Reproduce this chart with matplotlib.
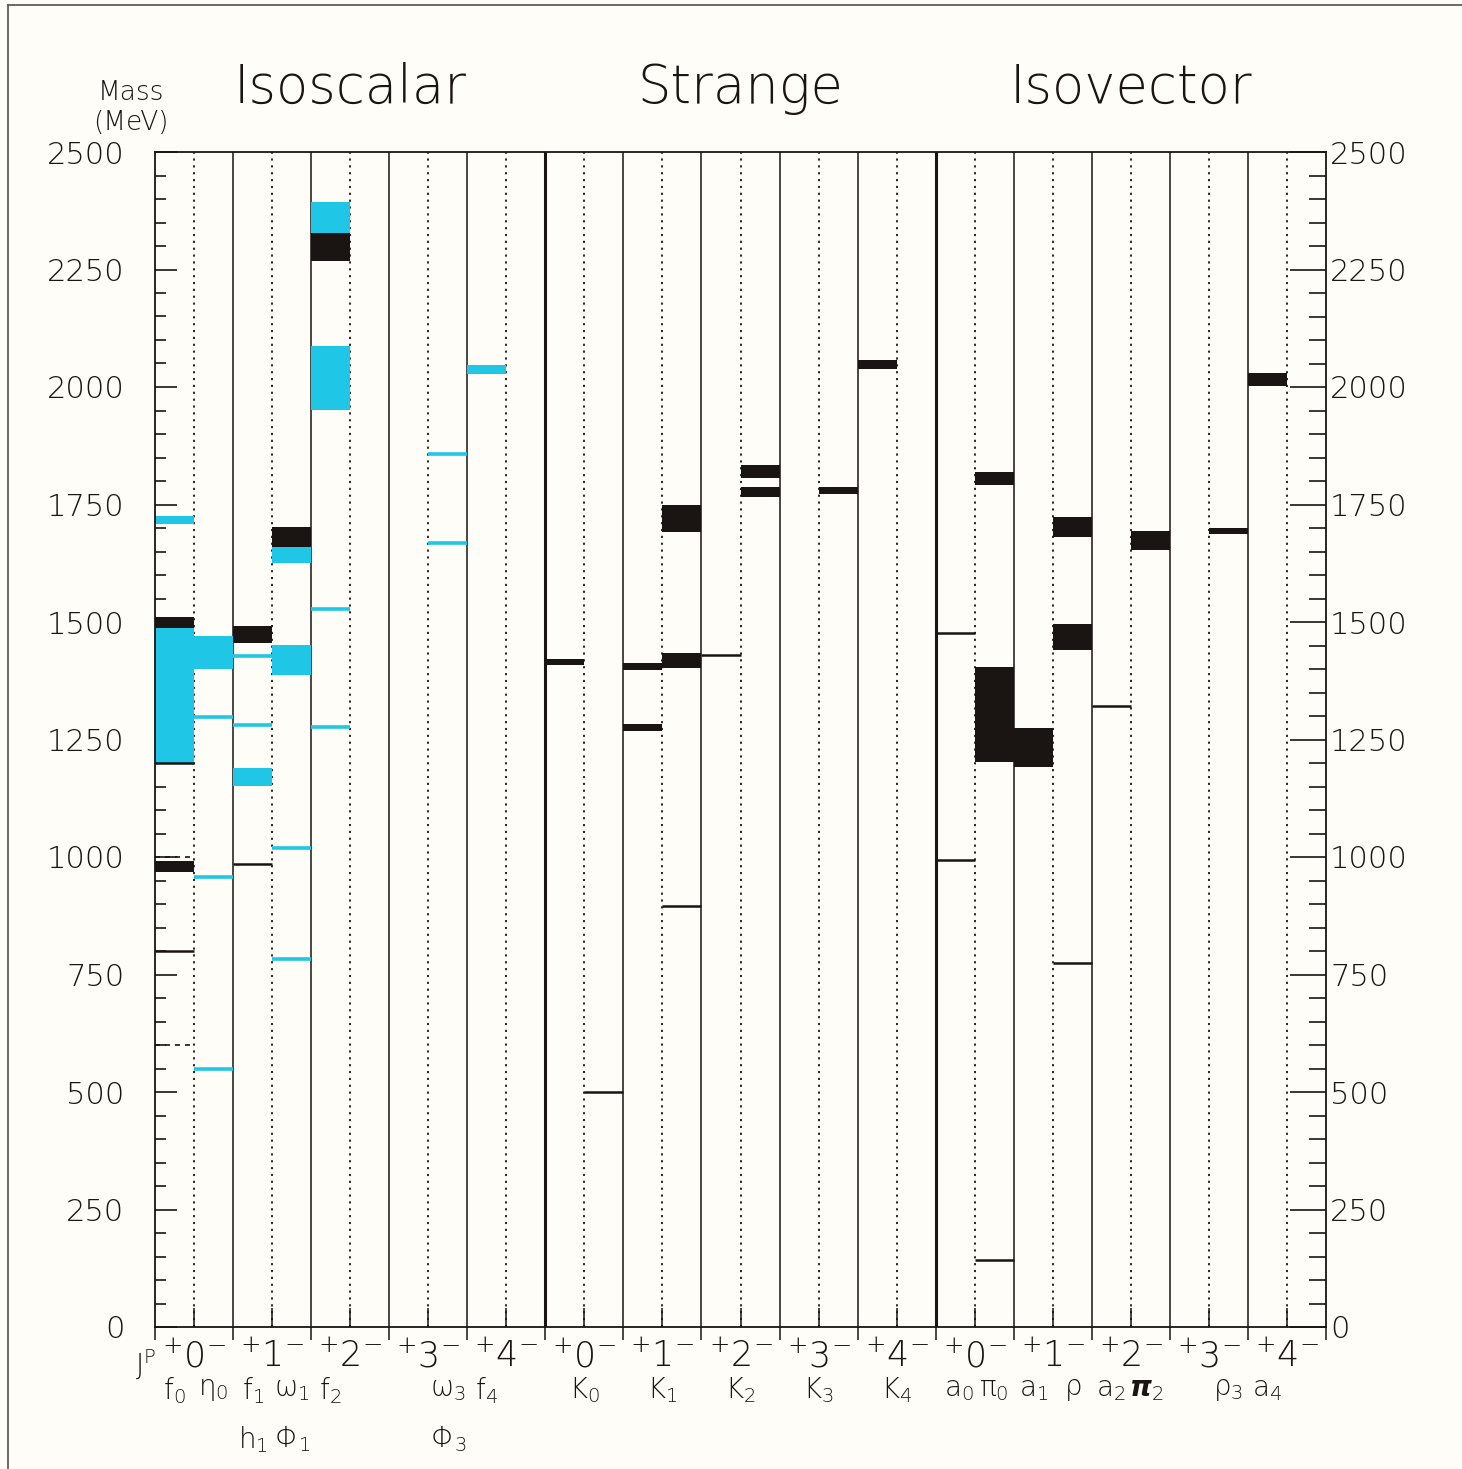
import matplotlib.pyplot as plt
from matplotlib.lines import Line2D
import numpy as np

# sub-columns: 3 groups x 5 J values x (P=+, P=-)
groups = ['Isoscalar', 'Strange', 'Isovector']
jp_labels = ['0', '1', '2', '3', '4']

# established states (black bands): column, low mass, high mass (MeV)
blk_col = [0, 0, 2, 3, 4, 10, 12, 12, 13, 13, 15, 15, 17, 18, 21, 21, 22, 23, 23, 25, 27, 28]
blk_lo = [1487, 968, 1455, 1660, 2268, 1408, 1398, 1268, 1692, 1402, 1806, 1766, 1772, 2038,
          1791, 1202, 1191, 1681, 1440, 1653, 1687, 2002]
blk_hi = [1510, 991, 1491, 1702, 2328, 1421, 1413, 1283, 1749, 1434, 1834, 1787, 1787, 2057,
          1819, 1404, 1275, 1723, 1496, 1694, 1700, 2030]

# narrow states (black lines)
bln_col = [0, 0, 2, 11, 13, 14, 20, 20, 21, 23, 24]
bln_m = [800, 1200, 985, 500, 896, 1430, 1477, 994, 143, 774, 1321]

# dashed entries
dsh_col = [0, 0]
dsh_m = [1000, 600]

# isoscalar candidates (cyan bands)
cyn_col = [0, 0, 1, 2, 3, 3, 4, 4, 8]
cyn_lo = [1709, 1200, 1400, 1151, 1626, 1387, 2328, 1951, 2028]
cyn_hi = [1725, 1487, 1470, 1189, 1660, 1451, 2394, 2087, 2047]

# cyan lines
cln_col = [1, 1, 1, 2, 2, 3, 3, 4, 4, 7, 7]
cln_m = [1298, 957, 549, 1428, 1281, 1019, 783, 1528, 1277, 1668, 1857]

# particle names under the columns (column position, row, label)
name_pos = [0.5, 1.5, 2.5, 3.5, 4.5, 7.5, 8.5, 11, 13, 15, 17, 19,
            20.6, 21.5, 22.5, 23.5, 24.5, 25.4, 27.5, 28.5, 2.5, 3.5, 7.5]
name_row = [0] * 20 + [1, 1, 1]
name_txt = [r'f$_0$', r'$\mathrm{\eta}_0$', r'f$_1$', r'$\mathrm{\omega}_1$', r'f$_2$',
            r'$\mathrm{\omega}_3$', r'f$_4$',
            r'K$_0$', r'K$_1$', r'K$_2$', r'K$_3$', r'K$_4$',
            r'a$_0$', r'$\mathrm{\pi}_0$', r'a$_1$', r'$\mathrm{\rho}$', r'a$_2$',
            r'$\boldsymbol{\pi}_2$',
            r'$\mathrm{\rho}_3$', r'a$_4$', r'h$_1$', r'$\mathrm{\Phi}_1$', r'$\mathrm{\Phi}_3$']

plt.rcParams['font.family'] = ['DejaVu Sans']
plt.rcParams['mathtext.fontset'] = 'custom'
plt.rcParams['mathtext.rm'] = 'DejaVu Sans:light'
plt.rcParams['mathtext.it'] = 'DejaVu Sans:light'
plt.rcParams['mathtext.bf'] = 'DejaVu Sans:bold'
ink = '#1a1412'
cyan = '#1fc6e6'
paper = '#fffdf8'

fig = plt.figure(figsize=(14.62, 14.69), dpi=100, facecolor=paper)
ax = fig.add_axes([155 / 1462, 1 - 1327 / 1469, 1171 / 1462, 1175 / 1469])
ax.set_facecolor(paper)
ax.set_xlim(0, 30)
ax.set_ylim(0, 2500)

# column grid
for x in range(1, 30):
    if x % 10 == 0:
        ax.axvline(x, color=ink, lw=2.2, zorder=1)
    elif x % 2 == 0:
        ax.axvline(x, color=ink, lw=1.1, zorder=1)
    else:
        ax.axvline(x, color=ink, lw=1.3, ls=(0, (1.2, 2.6)), zorder=1)

for c, lo, hi in zip(cyn_col, cyn_lo, cyn_hi):
    ax.fill_between([c, c + 1], lo, hi, color=cyan, lw=0, zorder=2)
for c, lo, hi in zip(blk_col, blk_lo, blk_hi):
    ax.fill_between([c, c + 1], lo, hi, color=ink, lw=0, zorder=3)
ax.hlines(cln_m, cln_col, np.array(cln_col) + 1, color=cyan, lw=2.6, zorder=2)
ax.hlines(bln_m, bln_col, np.array(bln_col) + 1, color=ink, lw=1.8, zorder=3)
ax.hlines(dsh_m, dsh_col, np.array(dsh_col) + 0.9, color=ink, lw=1.2, ls=(0, (3, 3)), zorder=3)

for s in ax.spines.values():
    s.set_color(ink)
    s.set_linewidth(1.3)

# mass axis, ticks inside on both sides
ax.set_yticks(np.arange(0, 2501, 250))
ax.set_yticks(np.arange(0, 2501, 50), minor=True)
ax.tick_params(axis='y', which='major', direction='in', length=16, width=1.2, color=ink,
               left=True, right=False, labelleft=True, labelsize=22, pad=22, labelcolor=ink)
ax.tick_params(axis='y', which='minor', direction='in', length=8, width=1.2, color=ink,
               left=True, right=False)
for lab in ax.get_yticklabels():
    lab.set_fontweight('light')

ax2 = ax.twinx()
ax2.set_ylim(0, 2500)
ax2.set_yticks(np.arange(0, 2501, 250))
ax2.set_yticks(np.arange(0, 2501, 50), minor=True)
ax2.tick_params(axis='y', which='major', direction='in', length=26, width=1.2, color=ink,
                labelsize=22, pad=3, labelcolor=ink)
ax2.tick_params(axis='y', which='minor', direction='in', length=12, width=1.2, color=ink)
for lab in ax2.get_yticklabels():
    lab.set_fontweight('light')
ax2.spines[:].set_visible(False)

ax.set_xticks(np.arange(0, 31, 2))
ax.set_xticks(np.arange(1, 30, 2), minor=True)
ax.tick_params(axis='x', which='major', direction='out', length=9, width=1.1, color=ink,
               labelbottom=False)
ax.tick_params(axis='x', which='minor', direction='in', length=14, width=1.1, color=ink)

# J^P row
tr = ax.get_xaxis_transform()
for g in range(3):
    for j, lab in enumerate(jp_labels):
        x = g * 10 + j * 2 + 1
        ax.text(x, -0.011, r'$^{+}$' + lab + r'$^{-}$', transform=tr, ha='center', va='top',
                fontsize=25, fontweight='light', color=ink)
ax.text(-0.25, -0.018, r'J$^{\rm P}$', transform=tr, ha='center', va='top',
        fontsize=20, fontweight='light', color=ink)

for x, r, t in zip(name_pos, name_row, name_txt):
    ax.text(x, -0.041 - 0.042 * r, t, transform=tr, ha='center', va='top',
            fontsize=20, fontweight='light', color=ink)

# group titles
for g, name in enumerate(groups):
    ax.text(g * 10 + 5, 1.054, name, transform=tr, ha='center', va='center',
            fontsize=38, fontweight='light', color=ink)

fig.text(131 / 1462, 1 - 93 / 1469, 'Mass', ha='center', va='center', fontsize=19,
         fontweight='light', color=ink)
fig.text(131 / 1462, 1 - 122 / 1469, '(MeV)', ha='center', va='center', fontsize=19,
         fontweight='light', color=ink)

# page frame
fig.add_artist(Line2D([8 / 1462, 8 / 1462], [0, 1 - 5 / 1469], color='#555048', lw=1.2))
fig.add_artist(Line2D([8 / 1462, 1], [1 - 5 / 1469, 1 - 5 / 1469], color='#555048', lw=1.2))

fig.savefig('out.png', dpi=100, facecolor=paper)
